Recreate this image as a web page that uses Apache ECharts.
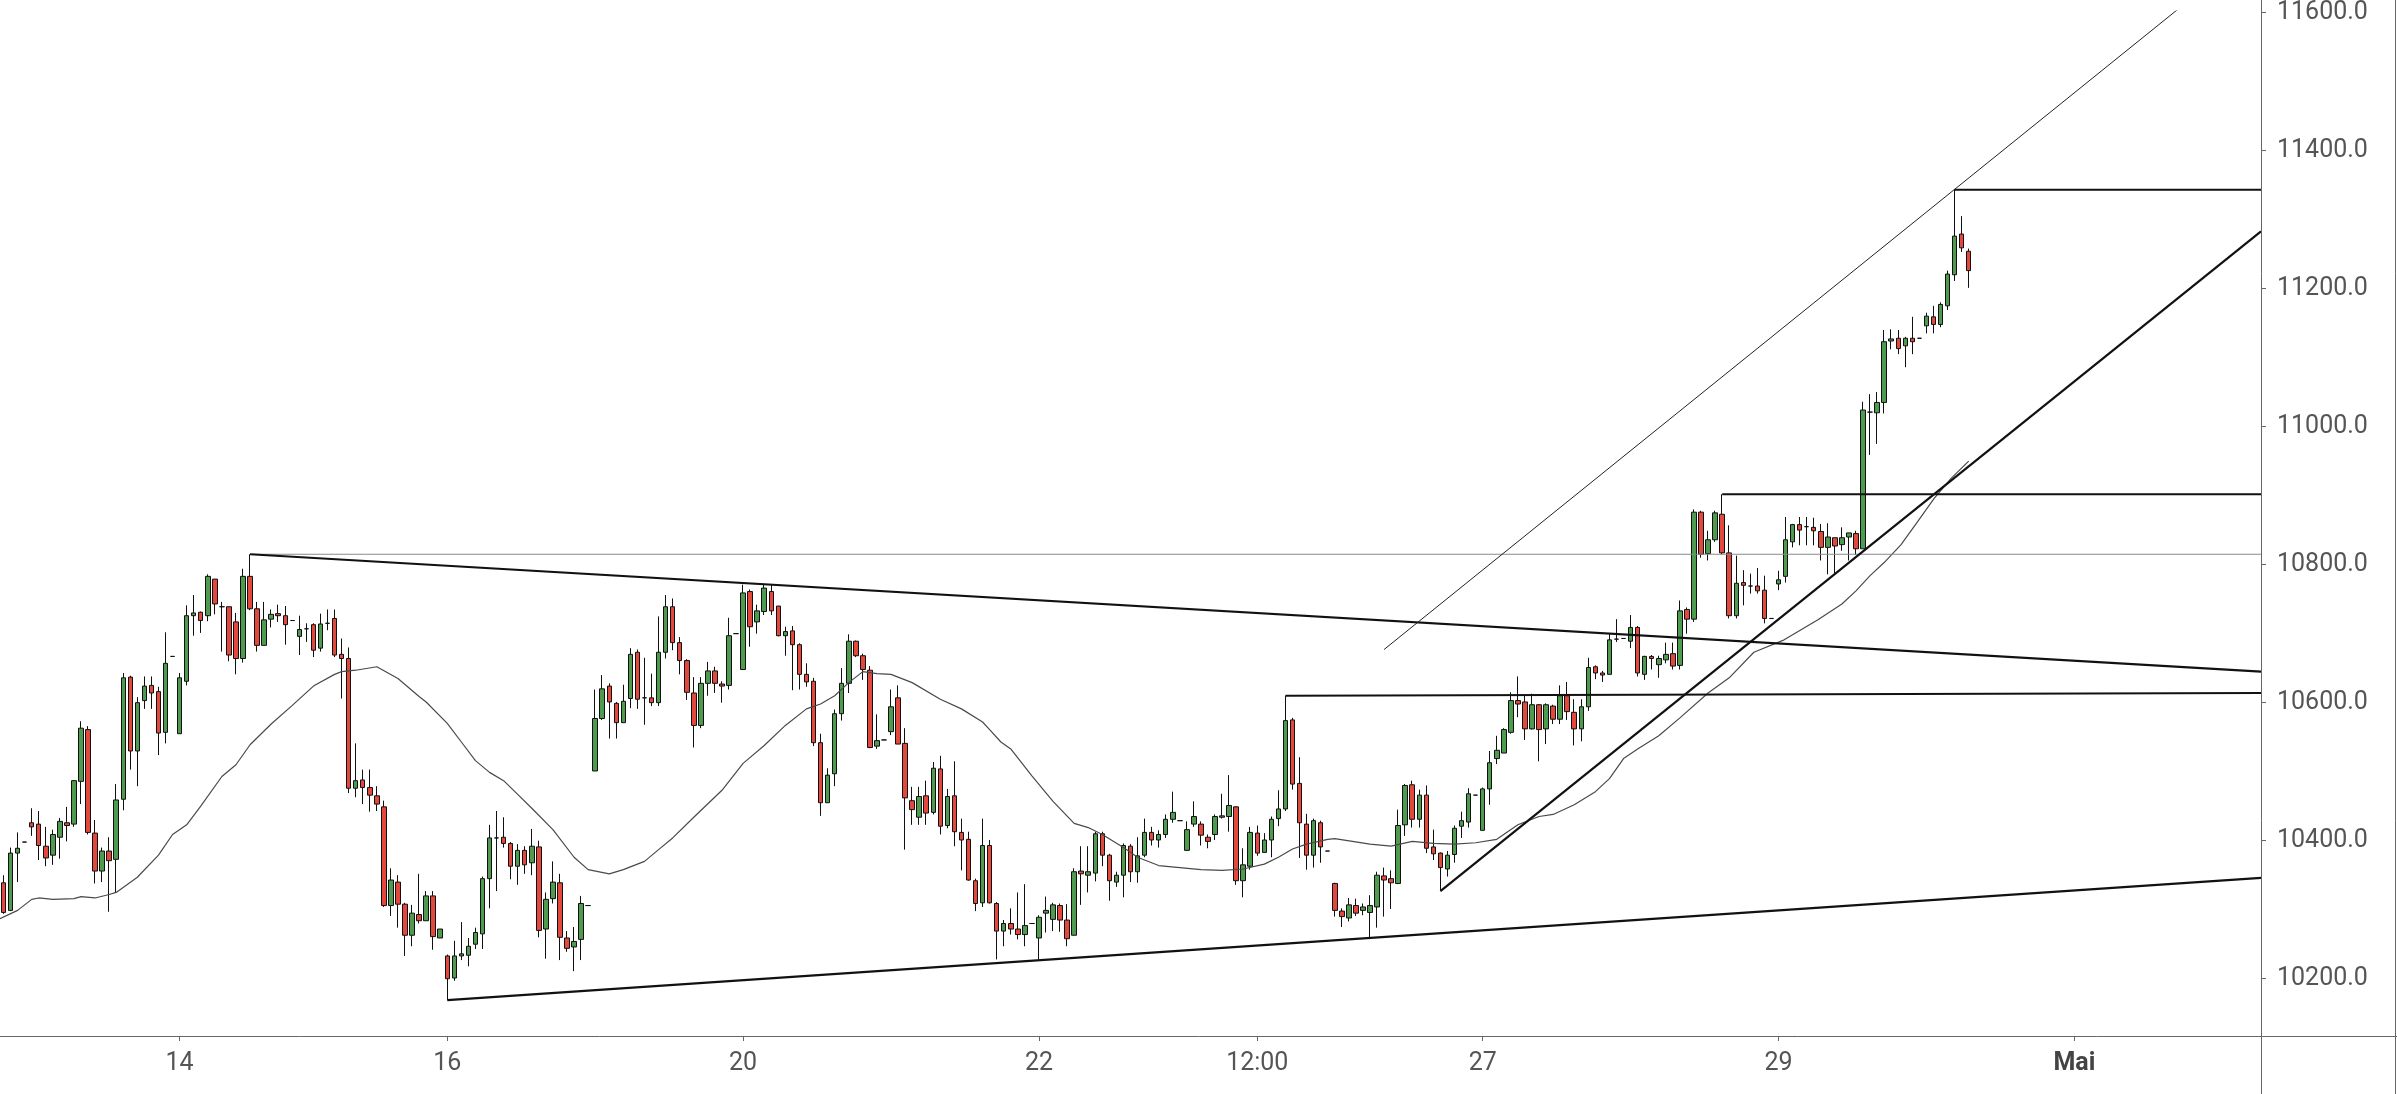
<!DOCTYPE html>
<html><head><meta charset="utf-8">
<script src="https://cdn.jsdelivr.net/npm/echarts@6.0.0/dist/echarts.min.js"></script>
<style>html,body{margin:0;padding:0;background:#fff;overflow:hidden}#chart{width:2397px;height:1094px}</style>
</head><body><div id="chart"></div>
<script>
// ---- data (hourly candles, index = slot on the time axis) ----
const openVals = [10339,10299,10382,10398,10426,10424,10392,10379,10405,10426,10424,10486,10561,10411,10356,10385,10373,10460,10637,10530,10603,10625,10616,10557,10667,10555,10631,10726,10731,10726,10779,10739,10739,10717,10664,10783,10736,10683,10721,10729,10726,10719,10696,10707,10713,10679,10715,10722,10670,10664,10476,10488,10477,10465,10449,10306,10340,10308,10263,10293,10284,10320,10259,10233,10201,10233,10234,10250,10265,10345,10404,10405,10396,10363,10386,10368,10391,10272,10316,10339,10259,10246,10257,10306,10501,10577,10624,10599,10571,10606,10673,10607,10607,10600,10673,10739,10687,10661,10614,10567,10628,10646,10627,10625,10700,10648,10761,10717,10732,10761,10740,10697,10704,10684,10641,10631,10542,10455,10497,10584,10628,10689,10668,10647,10537,10546,10558,10607,10541,10458,10434,10465,10441,10504,10422,10465,10412,10402,10342,10310,10393,10309,10269,10280,10272,10264,10280,10259,10295,10286,10306,10285,10263,10356,10350,10353,10410,10379,10340,10350,10392,10355,10379,10412,10401,10409,10431,10429,10386,10424,10424,10405,10409,10434,10435,10449,10342,10363,10411,10383,10401,10432,10446,10575,10483,10424,10379,10426,10385,10338,10298,10288,10306,10299,10296,10304,10349,10345,10338,10423,10481,10431,10466,10391,10382,10359,10380,10421,10427,10466,10415,10475,10519,10527,10557,10603,10601,10562,10597,10562,10595,10576,10610,10586,10562,10594,10652,10643,10641,10692,10693,10689,10709,10641,10667,10655,10662,10671,10654,10735,10721,10876,10816,10836,10873,10817,10726,10774,10769,10769,10763,10722,10772,10783,10833,10858,10855,10854,10848,10825,10839,10829,10840,10845,10823,11021,11020,11035,11124,11128,11117,11128,11128,11146,11159,11148,11175,11220,11279,11254];
const closeVals = [10296,10382,10389,10398,10420,10393,10375,10409,10428,10422,10487,10563,10412,10356,10385,10371,10459,10636,10530,10600,10624,10614,10556,10657,10667,10636,10726,10730,10719,10783,10743,10739,10669,10664,10783,10736,10683,10720,10728,10726,10713,10719,10706,10707,10676,10714,10715,10669,10664,10476,10487,10477,10466,10453,10306,10343,10308,10263,10295,10284,10320,10261,10272,10200,10233,10236,10247,10267,10345,10404,10404,10396,10363,10386,10365,10392,10270,10315,10340,10260,10244,10254,10309,10306,10577,10620,10601,10571,10602,10670,10605,10607,10600,10673,10739,10687,10661,10615,10567,10628,10646,10628,10624,10697,10700,10759,10710,10733,10766,10733,10697,10703,10684,10641,10630,10542,10455,10495,10584,10628,10689,10668,10648,10535,10545,10546,10594,10540,10462,10445,10464,10440,10505,10421,10464,10413,10401,10343,10309,10393,10310,10269,10280,10272,10264,10277,10280,10289,10299,10307,10285,10258,10355,10352,10355,10410,10379,10342,10350,10393,10355,10378,10412,10401,10409,10431,10441,10429,10416,10435,10408,10399,10435,10436,10451,10342,10365,10412,10382,10401,10431,10446,10574,10482,10426,10379,10429,10391,10385,10299,10290,10307,10295,10304,10306,10350,10343,10339,10422,10480,10431,10466,10389,10381,10361,10379,10418,10429,10468,10466,10475,10513,10531,10561,10603,10598,10562,10597,10561,10597,10576,10610,10587,10562,10594,10651,10643,10640,10691,10692,10693,10709,10643,10667,10664,10664,10670,10653,10733,10721,10876,10815,10836,10875,10817,10726,10773,10770,10769,10762,10722,10722,10778,10836,10858,10850,10855,10849,10825,10840,10827,10839,10846,10823,11024,11021,11035,11123,11127,11113,11128,11123,11128,11160,11148,11177,11221,11276,11259,11226];
const lowVals = [10294,10298,10340,10398,10407,10372,10363,10365,10374,10399,10420,10453,10409,10338,10340,10297,10325,10444,10503,10479,10591,10591,10524,10541,10667,10555,10625,10697,10701,10718,10728,10674,10660,10641,10658,10734,10674,10683,10709,10717,10684,10719,10669,10688,10666,10674,10705,10666,10606,10469,10463,10453,10442,10443,10304,10291,10274,10233,10247,10280,10284,10242,10259,10169,10197,10227,10218,10243,10243,10302,10327,10390,10344,10336,10352,10350,10260,10229,10309,10227,10239,10211,10227,10306,10501,10575,10548,10548,10571,10592,10591,10568,10595,10595,10664,10676,10641,10604,10535,10563,10610,10614,10600,10619,10700,10648,10681,10700,10727,10727,10696,10668,10618,10619,10623,10537,10436,10455,10479,10574,10614,10666,10633,10534,10533,10546,10553,10540,10387,10423,10423,10423,10438,10409,10418,10392,10357,10342,10298,10304,10309,10228,10247,10264,10257,10247,10280,10228,10267,10269,10268,10247,10263,10307,10325,10341,10363,10313,10333,10318,10340,10339,10376,10393,10390,10404,10426,10429,10385,10420,10393,10389,10401,10432,10413,10336,10318,10358,10378,10383,10376,10421,10443,10474,10375,10358,10361,10368,10385,10290,10275,10283,10291,10292,10259,10274,10290,10301,10337,10407,10419,10419,10382,10372,10327,10348,10368,10404,10419,10466,10415,10452,10511,10527,10555,10579,10546,10561,10515,10540,10569,10569,10575,10538,10544,10588,10634,10630,10641,10688,10693,10679,10638,10633,10648,10636,10657,10648,10648,10700,10717,10810,10806,10833,10815,10722,10722,10741,10758,10758,10715,10722,10763,10774,10825,10828,10828,10828,10806,10786,10787,10820,10806,10814,10823,10959,10975,11019,11112,11105,11086,11105,11128,11135,11135,11144,11169,11211,11253,11201];
const highVals = [10350,10390,10412,10398,10447,10443,10420,10416,10433,10449,10488,10573,10566,10430,10390,10405,10482,10643,10639,10608,10638,10638,10623,10702,10667,10643,10741,10756,10732,10786,10779,10746,10739,10730,10794,10815,10746,10746,10735,10742,10740,10719,10726,10715,10715,10729,10735,10735,10693,10680,10541,10503,10503,10479,10458,10360,10350,10310,10307,10352,10327,10327,10272,10235,10255,10282,10259,10274,10348,10423,10443,10434,10398,10395,10392,10417,10400,10325,10370,10352,10269,10275,10320,10306,10619,10640,10628,10601,10626,10679,10677,10665,10642,10725,10756,10751,10695,10663,10637,10637,10659,10652,10631,10723,10700,10771,10764,10742,10771,10771,10740,10710,10711,10686,10657,10636,10555,10505,10590,10650,10699,10690,10671,10653,10583,10546,10619,10625,10563,10478,10478,10487,10514,10523,10475,10515,10432,10413,10345,10432,10401,10311,10285,10302,10325,10337,10280,10292,10319,10310,10309,10308,10360,10392,10392,10413,10413,10381,10355,10396,10395,10405,10432,10420,10415,10438,10471,10429,10428,10457,10428,10409,10438,10468,10495,10450,10389,10420,10422,10411,10435,10473,10610,10578,10521,10439,10432,10429,10385,10339,10302,10317,10316,10309,10321,10355,10361,10357,10445,10482,10487,10474,10480,10416,10383,10385,10422,10442,10476,10466,10477,10530,10552,10563,10615,10638,10611,10613,10598,10599,10597,10625,10630,10605,10605,10665,10654,10646,10700,10721,10693,10727,10711,10668,10669,10668,10687,10687,10748,10738,10880,10878,10849,10878,10902,10857,10813,10792,10787,10795,10784,10722,10791,10869,10859,10869,10869,10868,10859,10860,10839,10854,10846,10849,11036,11047,11050,11140,11141,11140,11130,11159,11128,11165,11175,11180,11226,11343,11305,11258];

// moving average: [slot, value]
const maPoints = [[-0.5,10287],[2,10299],[4,10315],[5,10317],[7,10315],[10,10316],[11,10319],[13,10317],[15,10322],[16,10325],[19,10347],[22,10379],[24,10409],[26,10423],[28,10450],[31,10493],[33,10510],[35,10539],[38,10569],[41,10596],[44,10624],[47,10641],[48,10645],[50,10647],[53,10652],[56,10635],[59,10609],[60,10601],[63,10570],[65,10543],[67,10516],[69,10499],[71,10487],[73,10467],[75,10447],[78,10416],[81,10376],[83,10358],[86,10352],[88,10358],[91,10370],[93,10387],[95,10404],[98,10434],[102,10473],[105,10512],[108,10538],[111,10567],[114,10591],[116,10598],[118,10610],[120,10629],[122,10645],[124,10642],[126,10641],[129,10629],[133,10605],[136,10591],[139,10572],[140,10561],[141.6,10543],[143,10533],[146,10494],[149,10457],[152,10425],[154,10419],[156,10409],[159,10390],[161,10376],[164,10364],[167,10361],[170,10358],[173,10357],[176,10359],[179,10366],[181,10376],[183,10388],[185,10395],[188,10402],[189,10403],[194,10395],[197,10392],[200,10399],[203,10396],[206,10395],[209,10397],[212,10402],[215,10423],[218,10435],[220,10438],[223,10452],[226,10471],[228,10490],[230,10519],[232,10533],[235,10552],[238,10578],[242,10614],[245,10636],[248.5,10673],[252.8,10691],[257.6,10720],[261,10743],[263,10762],[265,10784],[267,10803],[269.4,10829],[271.8,10863],[274.1,10896],[276.5,10925],[279,10950]];

// drawn lines: [[slot, value],[slot, value]]
const triangleTop = [[35,10815],[320.5,10645]];
const triangleBottom = [[63,10169],[320.5,10346]];
const riseLine = [[204,10327],[320.5,11283]];
const channelLine = [[196,10677],[330,11780]];
const levelGrey = [[35,10815],[320.5,10815]];
const level10610 = [[182,10610],[320.5,10614]];
const level10902 = [[244,10902],[320.5,10902]];
const level11343 = [[277,11343],[320.5,11343]];

// time axis
const slotCount = 321;
const categories = Array.from({length: slotCount}, (_, i) => 's' + i);
const tickIndex = [25, 63, 105, 147, 178, 210, 252, 294];
const tickText = ['14', '16', '20', '22', '12:00', '27', '29', 'Mai'];
const tickMap = {};
tickIndex.forEach((ix, k) => { tickMap[ix] = tickText[k]; });

const candleData = openVals.map((o, i) => [o, closeVals[i], lowVals[i], highVals[i]]);

const FONT = 'Roboto';
const chart = echarts.init(document.getElementById('chart'), null, {renderer: 'canvas'});

function seg(data, width, color) {
  return {
    type: 'line', xAxisIndex: 1, yAxisIndex: 0, data: data, symbol: 'none', silent: true,
    lineStyle: {width: width, color: color}, clip: true, z: 5, animation: false
  };
}

chart.setOption({
  animation: false,
  backgroundColor: '#ffffff',
  grid: {left: 0, right: 136, top: 0, bottom: 58, containLabel: false},
  xAxis: [{
    type: 'category', data: categories, boundaryGap: true,
    axisLine: {show: false, onZero: false},
    axisTick: {show: true, alignWithLabel: true, length: 5, interval: (i) => tickMap.hasOwnProperty(i), lineStyle: {color: '#666'}},
    axisLabel: {
      interval: (i) => tickMap.hasOwnProperty(i),
      formatter: (v, i) => { const t = tickMap[i] || ''; return t === 'Mai' ? '{b|' + t + '}' : t; },
      color: '#555', fontFamily: FONT, fontSize: 25, margin: 15, lineHeight: 26,
      rich: {b: {fontWeight: 'bold', color: '#444', fontFamily: FONT, fontSize: 25, lineHeight: 26}}
    },
    splitLine: {show: false}
  }, {
    type: 'value', min: -0.5, max: slotCount - 0.5, show: false,
    axisLine: {onZero: false}
  }],
  yAxis: [{
    type: 'value', position: 'right', min: 10117, max: 11602, splitNumber: 7, scale: true,
    axisLine: {show: false, onZero: false},
    axisTick: {show: true, length: 5, lineStyle: {color: '#666'}},
    axisLabel: {
      formatter: (v) => v.toFixed(1), color: '#555', fontFamily: FONT, fontSize: 25, margin: 16,
      showMinLabel: false, showMaxLabel: false
    },
    splitLine: {show: false}
  }],
  series: [
    {
      type: 'candlestick', xAxisIndex: 0, yAxisIndex: 0, data: candleData, barWidth: 5, z: 3,
      itemStyle: {color: '#4e9a4e', color0: '#e2483c', borderColor: '#111', borderColor0: '#111', borderWidth: 1}
    },
    seg(maPoints, 1.2, '#4a4a4a'),
    seg(levelGrey, 1.2, '#8a8a8a'),
    seg(triangleTop, 2.2, '#111'),
    seg(triangleBottom, 2.2, '#111'),
    seg(riseLine, 2.2, '#111'),
    seg(channelLine, 1, '#222'),
    seg(level10610, 2, '#111'),
    seg(level10902, 2, '#111'),
    seg(level11343, 2, '#111')
  ],
  graphic: [
    {type: 'line', shape: {x1: 0, y1: 1036.5, x2: 2397, y2: 1036.5}, style: {stroke: '#666', lineWidth: 1}, z: 10},
    {type: 'line', shape: {x1: 2261.5, y1: 0, x2: 2261.5, y2: 1094}, style: {stroke: '#666', lineWidth: 1}, z: 10},
    {type: 'line', shape: {x1: 2395.5, y1: 0, x2: 2395.5, y2: 1094}, style: {stroke: '#666', lineWidth: 1}, z: 10}
  ]
});
</script>
</body></html>
